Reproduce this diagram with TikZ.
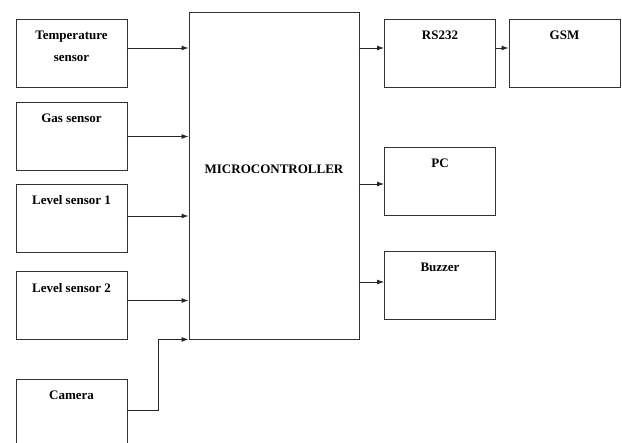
\documentclass[tikz,border=0pt]{standalone}
\usepackage{fontspec}
\setmainfont{Liberation Serif}
\usepackage{tikz}
\usetikzlibrary{arrows.meta,positioning,calc}

\begin{document}
\begin{tikzpicture}[x=1pt,y=-1pt,>={Latex[length=7pt,width=5pt]},font=\fontsize{13}{22}\selectfont\bfseries,
  block/.style={draw=black!80,line width=0.9pt,minimum width=111pt,minimum height=68pt,inner sep=0pt},
  toplabel/.style={anchor=north,inner sep=0pt,yshift=-12pt,align=center},
  link/.style={->,draw=black!85,line width=0.9pt}]
  \useasboundingbox (0,0) rectangle (622,443);
  \clip (0,0) rectangle (622,443);
  \node[block,label={[toplabel]north:Temperature\\sensor}] (temp) at (71.5,53) {};
  \node[block,label={[toplabel]north:Gas sensor}] (gas) at (71.5,136.5) {};
  \node[block,label={[toplabel]north:Level sensor 1}] (level1) at (71.5,218) {};
  \node[block,label={[toplabel]north:Level sensor 2}] (level2) at (71.5,305.5) {};
  \node[block,label={[toplabel]north:Camera}] (camera) at (71.5,413) {};
  \node[block,minimum width=170pt,minimum height=327pt,label={[yshift=6pt]center:MICROCONTROLLER}] (mcu) at (274,175.5) {};
  \node[block,label={[toplabel]north:RS232}] (rs) at (440,53) {};
  \node[block,label={[toplabel]north:GSM}] (gsm) at (564.5,53) {};
  \node[block,label={[toplabel]north:PC}] (pc) at (440,181.5) {};
  \node[block,label={[toplabel]north:Buzzer}] (buzzer) at (440,285.5) {};
  \draw[link] ([yshift=5pt]temp.east) -- ([yshift=5pt]temp.east -| mcu.west);
  \draw[link] (gas.east) -- (gas.east -| mcu.west);
  \draw[link] ([yshift=2pt]level1.east) -- ([yshift=2pt]level1.east -| mcu.west);
  \draw[link] ([yshift=5pt]level2.east) -- ([yshift=5pt]level2.east -| mcu.west);
  \draw[link] ([yshift=3pt]camera.east) -- ++(31,0) |- (mcu.south west);
  \draw[link] ([yshift=5pt]rs.west -| mcu.east) -- ([yshift=5pt]rs.west);
  \draw[link] ([yshift=5pt]rs.east) -- ([yshift=5pt]gsm.west);
  \draw[link] ([yshift=-2.5pt]pc.west -| mcu.east) -- ([yshift=-2.5pt]pc.west);
  \draw[link] ([yshift=3.5pt]buzzer.west -| mcu.east) -- ([yshift=3.5pt]buzzer.west);
\end{tikzpicture}
\end{document}
